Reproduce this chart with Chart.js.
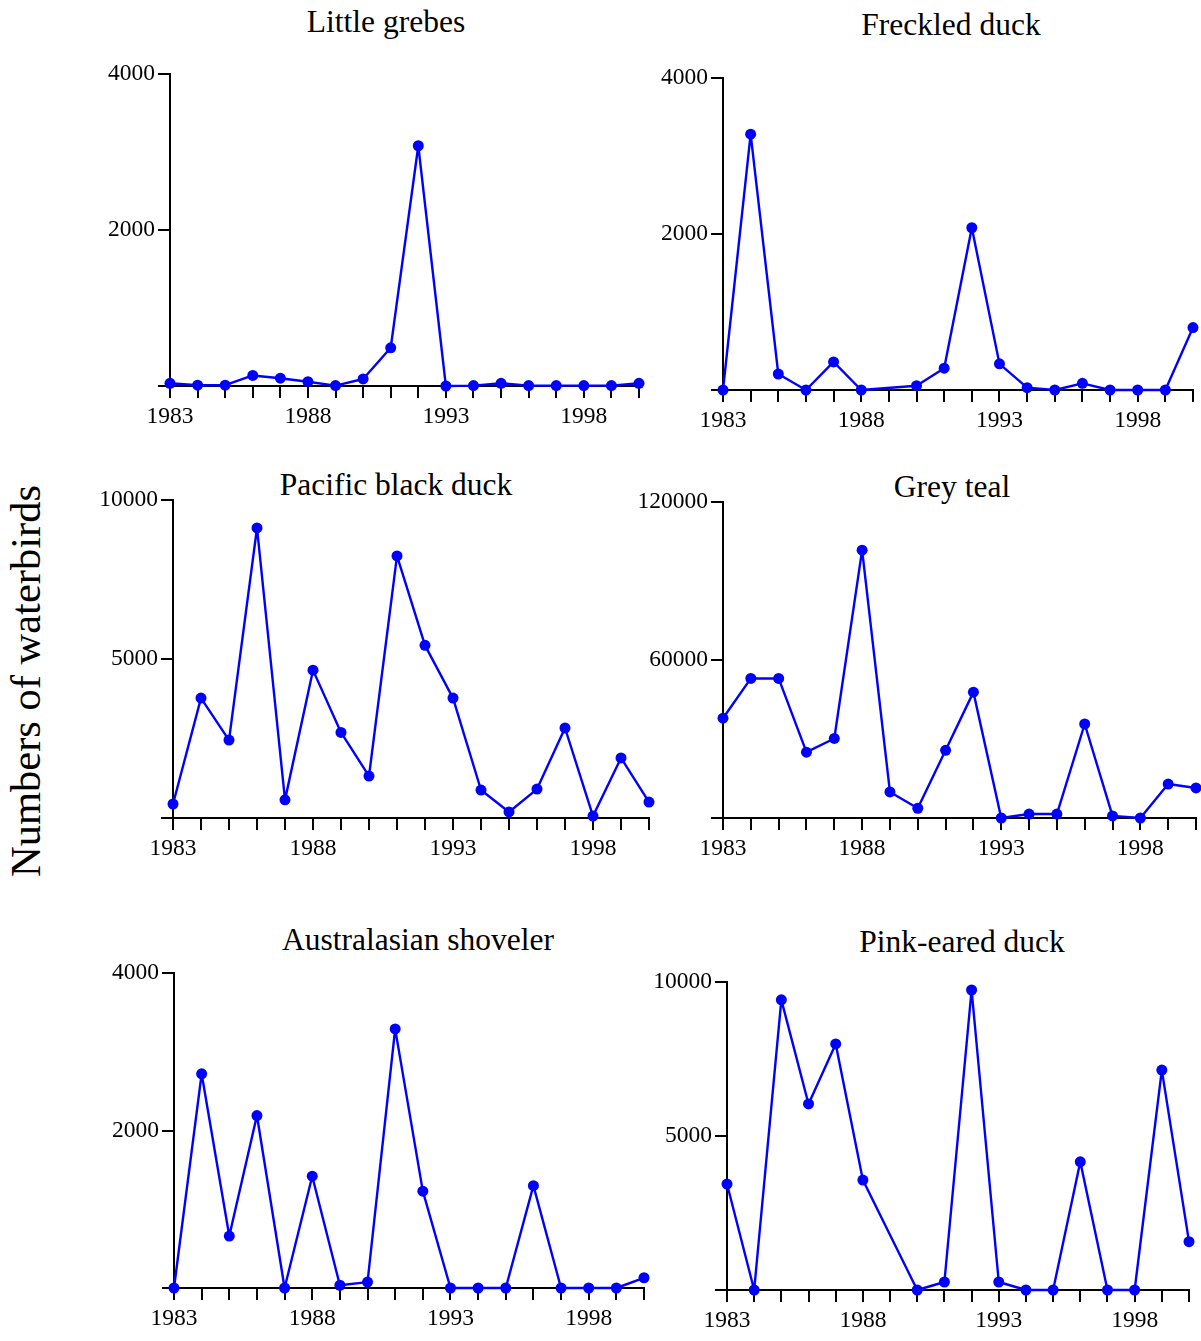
<!DOCTYPE html>
<html><head><meta charset="utf-8">
<script src="https://cdn.jsdelivr.net/npm/chart.js@4.4.1/dist/chart.umd.min.js"></script>
<style>
html,body{margin:0;padding:0;background:#fff;}
body{width:1201px;height:1341px;position:relative;overflow:hidden;font-family:"Liberation Serif","Times New Roman",serif;color:#000;}
.title{position:absolute;font-size:31.5px;line-height:32px;white-space:nowrap;transform:translate(-50%,-50%);}
.ylab{position:absolute;left:26px;top:681px;font-size:42.5px;line-height:42px;white-space:nowrap;transform:translate(-50%,-50%) rotate(-90deg);}
canvas{position:absolute;}
</style></head>
<body>
<div class="ylab">Numbers of waterbirds</div>
<script>
// ---- data ----
const years = [1983,1984,1985,1986,1987,1988,1989,1990,1991,1992,1993,1994,1995,1996,1997,1998,1999,2000];
const xTickLabelYears = [1983,1988,1993,1998];
const panelTitles = ["Little grebes","Freckled duck","Pacific black duck","Grey teal","Australasian shoveler","Pink-eared duck"];
const yMaxima = [4000,4000,10000,120000,4000,10000];
const littleGrebes = [35,10,10,135,100,55,5,90,490,3080,0,5,35,5,5,5,5,35];
const freckledDuck = [0,3280,205,0,360,0,null,55,280,2080,335,30,0,85,0,0,0,800];
const pacificBlackDuck = [440,3770,2450,9120,570,4650,2690,1320,8240,5430,3770,880,190,910,2830,60,1890,500];
const greyTeal = [37900,53000,53000,25000,30200,101700,9900,3700,25700,47800,0,1500,1500,35700,800,0,12900,11400];
const australasianShoveler = [0,2720,660,2190,0,1420,35,75,3290,1230,0,0,0,1300,0,0,0,130];
const pinkEaredDuck = [3440,0,9420,6040,7990,3570,null,0,260,9740,260,0,0,4160,0,0,7140,1570];
const seriesList = [littleGrebes,freckledDuck,pacificBlackDuck,greyTeal,australasianShoveler,pinkEaredDuck];

// ---- layout (page pixels): plot area and title centre ----
const layouts = [
  {L:170,T:74,R:639,B:386,tx:386,ty:22},
  {L:723,T:78,R:1193,B:390,tx:951,ty:25},
  {L:173,T:500,R:649,B:818,tx:396,ty:485},
  {L:723,T:502,R:1196,B:818,tx:952,ty:487},
  {L:174,T:973,R:644,B:1288,tx:418,ty:940},
  {L:727,T:982,R:1189,B:1290,tx:962,ty:942}
];

const PADL = 90, PADT = 20, PADR = 20, PADB = 60;
const tickFont = {family:"'Liberation Serif','Times New Roman',serif", size:23.5};

layouts.forEach((lay, i) => {
  const t = document.createElement('div');
  t.className = 'title';
  t.style.left = lay.tx + 'px';
  t.style.top = lay.ty + 'px';
  t.textContent = panelTitles[i];
  document.body.appendChild(t);

  const c = document.createElement('canvas');
  const w = (lay.R - lay.L) + PADL + PADR;
  const h = (lay.B - lay.T) + PADT + PADB;
  c.width = w; c.height = h;
  c.style.width = w + 'px'; c.style.height = h + 'px';
  c.style.left = (lay.L - PADL) + 'px';
  c.style.top = (lay.T - PADT) + 'px';
  document.body.appendChild(c);

  const vals = seriesList[i];
  const pts = years.map((yr, k) => ({x: yr, y: vals[k]}));
  const ymax = yMaxima[i];

  new Chart(c.getContext('2d'), {
    type: 'line',
    data: {datasets: [{
      data: pts,
      borderColor: '#0000ff',
      backgroundColor: '#0000ff',
      borderWidth: 2.4,
      borderJoinStyle: 'round',
      pointRadius: 5.5,
      pointBorderWidth: 0,
      pointBackgroundColor: '#0000ff',
      tension: 0,
      spanGaps: true,
      clip: false
    }]},
    options: {
      responsive: false,
      animation: false,
      devicePixelRatio: 1,
      layout: {padding: {left: 0, top: PADT, right: PADR, bottom: 0}},
      plugins: {legend: {display: false}, tooltip: {enabled: false}},
      scales: {
        x: {
          type: 'linear', min: years[0], max: years[years.length - 1],
          afterFit: s => { s.height = PADB; },
          border: {display: true, color: '#000', width: 2},
          grid: {display: true, drawOnChartArea: false, drawTicks: true, tickLength: 12, color: '#000', lineWidth: 2},
          ticks: {
            stepSize: 1, autoSkip: false, maxRotation: 0, minRotation: 0,
            padding: 5, color: '#000', font: tickFont,
            callback: v => xTickLabelYears.includes(v) ? String(v) : ''
          }
        },
        y: {
          type: 'linear', min: 0, max: ymax,
          afterFit: s => { s.width = PADL; },
          border: {display: true, color: '#000', width: 2},
          grid: {display: true, drawOnChartArea: false, drawTicks: true, tickLength: 12, color: '#000', lineWidth: 2},
          ticks: {
            stepSize: ymax / 2, padding: 3, color: '#000', font: tickFont,
            callback: v => v === 0 ? '' : String(v)
          }
        }
      }
    }
  });
});
</script>
</body></html>
